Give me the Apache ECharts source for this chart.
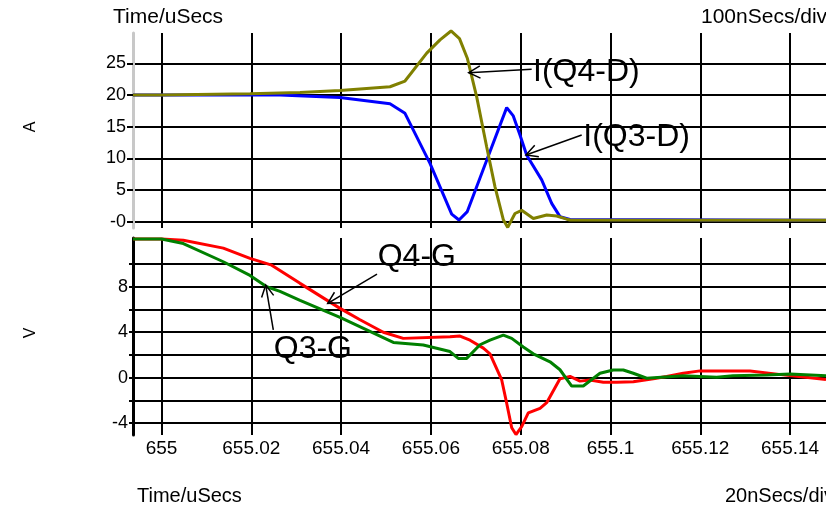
<!DOCTYPE html>
<html><head><meta charset="utf-8">
<script src="https://cdn.jsdelivr.net/npm/echarts@6/dist/echarts.min.js"></script>
<style>html,body{margin:0;padding:0;background:#fff}#c{width:826px;height:508px}</style>
</head><body><div id="c"></div>
<script>
// ---- axes ----
const X_MIN = 654.99365, X_MAX = 655.148;
const xTicks = [655, 655.02, 655.04, 655.06, 655.08, 655.1, 655.12, 655.14];
const topMin = -0.99, topMax = 29.78;
const topTicks = [0, 5, 10, 15, 20, 25];
const botMin = -5.04, botMax = 12.29;
const botTicks = [-4, -2, 0, 2, 4, 6, 8, 10];
const botLabels = [-4, 0, 4, 8];

// ---- I(Q4-D) olive ----
const tQ4D = [654.99365, 655.0, 655.01971, 655.03085, 655.03975, 655.05089, 655.05423, 655.05907, 655.06203, 655.06448, 655.06637, 655.06811, 655.0702, 655.07243, 655.07428, 655.07614, 655.07711, 655.07873, 655.08022, 655.08281, 655.08579, 655.08802, 655.09025, 655.09098, 655.148];
const iQ4D = [20.0, 20.0, 20.2, 20.4, 20.7, 21.3, 22.2, 26.6, 28.7, 30.1, 28.9, 25.8, 19.7, 11.8, 5.5, 0.3, -0.9, 1.3, 1.8, 0.5, 1.06, 0.9, 0.4, 0.27, 0.25];
// ---- I(Q3-D) blue ----
const tQ3D = [654.99365, 655.0, 655.02639, 655.03975, 655.05089, 655.05423, 655.0598, 655.06463, 655.06626, 655.06811, 655.07243, 655.07688, 655.07835, 655.07984, 655.08134, 655.08468, 655.0869, 655.08875, 655.09098, 655.148];
const iQ3D = [20.0, 20.0, 20.0, 19.6, 18.6, 17.1, 9.2, 1.2, 0.27, 1.6, 9.7, 18.0, 16.7, 13.7, 10.5, 6.6, 2.9, 0.8, 0.35, 0.25];
// ---- Q4-G red ----
const tQ4G = [654.99365, 655.0, 655.00486, 655.01376, 655.01971, 655.02454, 655.03085, 655.03976, 655.04421, 655.0494, 655.05385, 655.06425, 655.06648, 655.06871, 655.07168, 655.07316, 655.07577, 655.07688, 655.078, 655.07895, 655.08022, 655.08169, 655.0843, 655.08579, 655.08875, 655.09098, 655.09321, 655.09543, 655.0984, 655.10138, 655.10508, 655.10953, 655.11252, 655.11621, 655.11993, 655.13107, 655.13849, 655.148];
const vQ4G = [12.2, 12.2, 12.1, 11.4, 10.5, 9.9, 8.3, 6.1, 5.1, 4.0, 3.46, 3.6, 3.66, 3.3, 2.6, 2.1, -0.2, -2.25, -4.4, -5.0, -4.3, -3.1, -2.7, -2.2, -0.1, 0.12, -0.3, -0.2, -0.4, -0.4, -0.35, -0.1, 0.1, 0.4, 0.6, 0.6, 0.25, -0.15];
// ---- Q3-G green ----
const tQ3G = [654.99365, 655.0, 655.00486, 655.01376, 655.01971, 655.02343, 655.02639, 655.03085, 655.03976, 655.0457, 655.05163, 655.05831, 655.06425, 655.0661, 655.06797, 655.07094, 655.07316, 655.07613, 655.078, 655.08058, 655.08281, 655.08653, 655.08875, 655.09136, 655.09394, 655.09766, 655.10062, 655.10285, 655.10508, 655.10806, 655.11621, 655.12365, 655.12728, 655.13479, 655.13998, 655.148];
const vQ3G = [12.2, 12.2, 11.8, 10.2, 9.0, 8.0, 7.6, 6.8, 5.3, 4.2, 3.1, 2.87, 2.3, 1.7, 1.7, 2.9, 3.3, 3.75, 3.46, 2.7, 2.1, 1.4, 0.7, -0.73, -0.73, 0.39, 0.68, 0.68, 0.39, -0.05, 0.18, 0.03, 0.18, 0.24, 0.32, 0.18];

// ---- annotations (data coordinates: tip, tail, text anchor) ----
const annLabels = ['I(Q4-D)', 'I(Q3-D)', 'Q4-G', 'Q3-G'];
const annGrid = [0, 0, 1, 1];
const annTip = [[655.06842, 23.52], [655.08118, 10.53], [655.03702, 6.54], [655.02321, 8.15]];
const annTail = [[655.08244, 24.06], [655.09359, 13.69], [655.048, 9.12], [655.0249, 4.2]];
const annText = [[655.08275, 23.6], [655.09395, 13.4], [655.04815, 10.6], [655.025, 2.5]];

const FONT = "'Liberation Sans', Arial, sans-serif";
const zip = (a, b) => a.map((v, i) => [v, b[i]]);

const chart = echarts.init(document.getElementById('c'), null, {renderer: 'canvas'});
const gridLine = {show: true, lineStyle: {color: '#000', width: 2}};
const xFmt = v => String(parseFloat(v.toFixed(3)));

const option = {
  animation: false,
  backgroundColor: '#fff',
  textStyle: {fontFamily: FONT},
  grid: [
    {left: 133, right: 0, top: 33, height: 195},
    {left: 133, right: 0, top: 238, height: 197}
  ],
  xAxis: [
    {type: 'value', gridIndex: 0, min: X_MIN, max: X_MAX,
     axisLine: {show: false}, axisTick: {show: false, customValues: xTicks},
     axisLabel: {show: false, customValues: xTicks}, splitLine: gridLine},
    {type: 'value', gridIndex: 1, min: X_MIN, max: X_MAX,
     axisLine: {show: false}, axisTick: {show: false, customValues: xTicks},
     axisLabel: {show: true, customValues: xTicks, formatter: xFmt, color: '#000', fontSize: 19, fontFamily: FONT, margin: 4},
     splitLine: gridLine}
  ],
  yAxis: [
    {type: 'value', gridIndex: 0, min: topMin, max: topMax,
     axisLine: {show: true, onZero: false, lineStyle: {color: '#c8c8c8', width: 3}},
     axisTick: {show: true, length: 6, customValues: topTicks, lineStyle: {color: '#000', width: 2}},
     axisLabel: {customValues: topTicks, formatter: v => v === 0 ? '-0' : String(v), color: '#000', fontSize: 18, fontFamily: FONT, margin: 7},
     splitLine: gridLine},
    {type: 'value', gridIndex: 1, min: botMin, max: botMax,
     axisLine: {show: true, onZero: false, lineStyle: {color: '#000', width: 3}},
     axisTick: {show: true, length: 4, customValues: botTicks, lineStyle: {color: '#000', width: 2}},
     axisLabel: {customValues: botLabels, formatter: v => String(v), color: '#000', fontSize: 18, fontFamily: FONT, margin: 5},
     splitLine: gridLine}
  ],
  series: [
    {type: 'line', name: 'I(Q3-D)', xAxisIndex: 0, yAxisIndex: 0, data: zip(tQ3D, iQ3D), showSymbol: false, clip: false, lineStyle: {color: '#0000ff', width: 3}, itemStyle: {color: '#0000ff'}},
    {type: 'line', name: 'I(Q4-D)', xAxisIndex: 0, yAxisIndex: 0, data: zip(tQ4D, iQ4D), showSymbol: false, clip: false, lineStyle: {color: '#808000', width: 3}, itemStyle: {color: '#808000'}},
    {type: 'line', name: 'Q4-G', xAxisIndex: 1, yAxisIndex: 1, data: zip(tQ4G, vQ4G), showSymbol: false, clip: false, lineStyle: {color: '#ff0000', width: 3}, itemStyle: {color: '#ff0000'}},
    {type: 'line', name: 'Q3-G', xAxisIndex: 1, yAxisIndex: 1, data: zip(tQ3G, vQ3G), showSymbol: false, clip: false, lineStyle: {color: '#008000', width: 3}, itemStyle: {color: '#008000'}}
  ]
};
chart.setOption(option);

// ---- header/footer texts, axis names + annotations ----
const g = [
  {type: 'text', left: 113, top: 7, style: {text: 'Time/uSecs', font: '21px ' + FONT, fill: '#000'}},
  {type: 'text', left: 701, top: 7, style: {text: '100nSecs/div', font: '21px ' + FONT, fill: '#000'}},
  {type: 'text', left: 137, top: 486, style: {text: 'Time/uSecs', font: '20px ' + FONT, fill: '#000'}},
  {type: 'text', left: 725, top: 486, style: {text: '20nSecs/div', font: '20px ' + FONT, fill: '#000'}},
  {type: 'group', x: 31, y: 127, rotation: Math.PI / 2,
   children: [{type: 'text', x: 0, y: 0, style: {text: 'A', font: '16px ' + FONT, fill: '#000', align: 'center', verticalAlign: 'middle'}}]},
  {type: 'group', x: 31, y: 333, rotation: Math.PI / 2,
   children: [{type: 'text', x: 0, y: 0, style: {text: 'V', font: '16px ' + FONT, fill: '#000', align: 'center', verticalAlign: 'middle'}}]}
];
const L = 13, TH = 28 * Math.PI / 180;
annLabels.forEach((lab, i) => {
  const gi = {gridIndex: annGrid[i]};
  const tip = chart.convertToPixel(gi, annTip[i]);
  const tail = chart.convertToPixel(gi, annTail[i]);
  const tp = chart.convertToPixel(gi, annText[i]);
  const dx = tail[0] - tip[0], dy = tail[1] - tip[1];
  const d = Math.hypot(dx, dy), ux = dx / d, uy = dy / d;
  const arm = s => [tip[0] + L * (ux * Math.cos(s * TH) - uy * Math.sin(s * TH)),
                    tip[1] + L * (ux * Math.sin(s * TH) + uy * Math.cos(s * TH))];
  g.push({type: 'line', shape: {x1: tail[0], y1: tail[1], x2: tip[0], y2: tip[1]}, style: {stroke: '#000', lineWidth: 1.5}, z: 100});
  g.push({type: 'polyline', shape: {points: [arm(1), tip, arm(-1)]}, style: {stroke: '#000', lineWidth: 1.5, fill: null}, z: 100});
  g.push({type: 'text', x: tp[0], y: tp[1], z: 100,
          style: {text: lab, font: '32px ' + FONT, fill: '#000', verticalAlign: 'middle', align: 'left'}});
});
chart.setOption({graphic: g});
</script>
</body></html>
